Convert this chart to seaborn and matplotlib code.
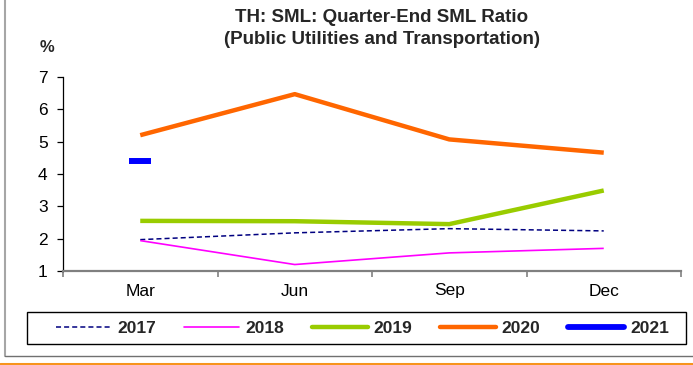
import numpy as np
import pandas as pd
import matplotlib
matplotlib.use("Agg")
import matplotlib.pyplot as plt
from matplotlib.lines import Line2D
from matplotlib.patches import Rectangle
from matplotlib.ticker import FixedLocator
import seaborn as sns

# Quarter-end SML ratio (%), public utilities and transportation
quarters = ["Mar", "Jun", "Sep", "Dec"]
ratio_2017 = [1.97, 2.18, 2.31, 2.24]
ratio_2018 = [1.94, 1.20, 1.56, 1.70]
ratio_2019 = [2.55, 2.54, 2.45, 3.49]
ratio_2020 = [5.20, 6.47, 5.07, 4.66]
ratio_2021 = [4.39]
years = ["2017", "2018", "2019", "2020", "2021"]

series = {
    "2017": ratio_2017,
    "2018": ratio_2018,
    "2019": ratio_2019,
    "2020": ratio_2020,
    "2021": ratio_2021,
}
df = pd.concat(
    [pd.DataFrame({"q": np.arange(len(v)), "ratio": v, "year": y}) for y, v in series.items()],
    ignore_index=True,
)

sns.set_theme(style="white")
plt.rcParams["font.family"] = ["Liberation Sans", "DejaVu Sans"]

styles = {
    "2017": dict(color="#000080", lw=1.1, dashes=(3.3, 2.0)),
    "2018": dict(color="#FF00FF", lw=1.2),
    "2019": dict(color="#99CC00", lw=3.2),
    "2020": dict(color="#FF6600", lw=3.2),
    "2021": dict(color="#0000FF", lw=4.2),
}

W, H = 693, 365
fig = plt.figure(figsize=(W / 100, H / 100), dpi=100)
ax = fig.add_axes([63 / W, 1 - 271 / H, (681 - 63) / W, (271 - 77) / H])

for y in years[:4]:
    st = styles[y]
    d = df[df["year"] == y]
    line_kw = dict(color=st["color"], linewidth=st["lw"], solid_capstyle="butt")
    if "dashes" in st:
        line_kw.update(linestyle=(0, st["dashes"]), dash_capstyle="butt")
    sns.lineplot(data=d, x="q", y="ratio", ax=ax, legend=False, **line_kw)

# single 2021 observation drawn as a short bar
d21 = df[df["year"] == "2021"]
sns.lineplot(data=d21, x="q", y="ratio", ax=ax, legend=False,
             color="#0000FF", linewidth=0, marker="_", markersize=16.5,
             markeredgewidth=4.3, markeredgecolor="#0000FF")

ax.set_xlim(-0.5, 3.5)
ax.set_ylim(1, 7)
ax.set_xlabel("")
ax.set_ylabel("")

ax.set_xticks(np.arange(len(quarters)))
ax.set_xticklabels(quarters)
ax.xaxis.set_minor_locator(FixedLocator(np.arange(-0.5, 4, 1.0)))
ax.tick_params(axis="x", which="major", length=0, pad=9, labelsize=12.5, labelcolor="black")
ax.tick_params(axis="x", which="minor", length=4, width=1.2, color="#808080", direction="out", bottom=True)

ax.set_yticks(np.arange(1, 8, 1))
ax.tick_params(axis="y", which="major", length=4, width=0.9, color="black", direction="out",
               left=True, pad=7, labelsize=12.5, labelcolor="black")

for s in ["top", "right"]:
    ax.spines[s].set_visible(False)
ax.spines["left"].set_color("black")
ax.spines["left"].set_linewidth(0.9)
ax.spines["bottom"].set_color("#808080")
ax.spines["bottom"].set_linewidth(1.6)
ax.grid(False)

# titles
fig.text(381.5 / W, 1 - 17.5 / H, "TH: SML: Quarter-End SML Ratio", ha="center", va="center",
         fontsize=13.5, fontweight="bold")
fig.text(381.5 / W, 1 - 40 / H, "(Public Utilities and Transportation)", ha="center", va="center",
         fontsize=13.5, fontweight="bold")
fig.text(46.5 / W, 1 - 48 / H, "%", ha="center", va="center", fontsize=12, fontweight="bold")

# legend
handles = []
for y in years:
    st = styles[y]
    kw = dict(color=st["color"], linewidth=st["lw"], solid_capstyle="round")
    if "dashes" in st:
        kw.update(linestyle=(0, st["dashes"]), dash_capstyle="butt")
    handles.append(Line2D([0], [0], **kw))
leg = fig.legend(handles, years, loc="center left", bbox_to_anchor=(47 / W, 1 - 328 / H),
                 ncol=5, frameon=False, borderpad=0, handlelength=3.2, handletextpad=0.35,
                 columnspacing=1.6, prop=dict(weight="bold", size=12.5))
fig.add_artist(Rectangle((26.7 / W, 1 - 344 / H), (685.7 - 26.7) / W, (344 - 312.3) / H,
                         transform=fig.transFigure, fill=False, edgecolor="black", linewidth=1.0))

# outer frame lines
fig.add_artist(Line2D([4.5 / W, 4.5 / W], [1 - 356 / H, 1.0], transform=fig.transFigure,
                      color="#A6A6A6", linewidth=1.5))
fig.add_artist(Line2D([4.5 / W, 1.0], [1 - 356 / H, 1 - 356 / H], transform=fig.transFigure,
                      color="#707070", linewidth=1.0))
fig.add_artist(Line2D([0, 1.0], [1 - 363.5 / H, 1 - 363.5 / H], transform=fig.transFigure,
                      color="#F7941D", linewidth=2.2))

fig.savefig("out.png", dpi=100)
